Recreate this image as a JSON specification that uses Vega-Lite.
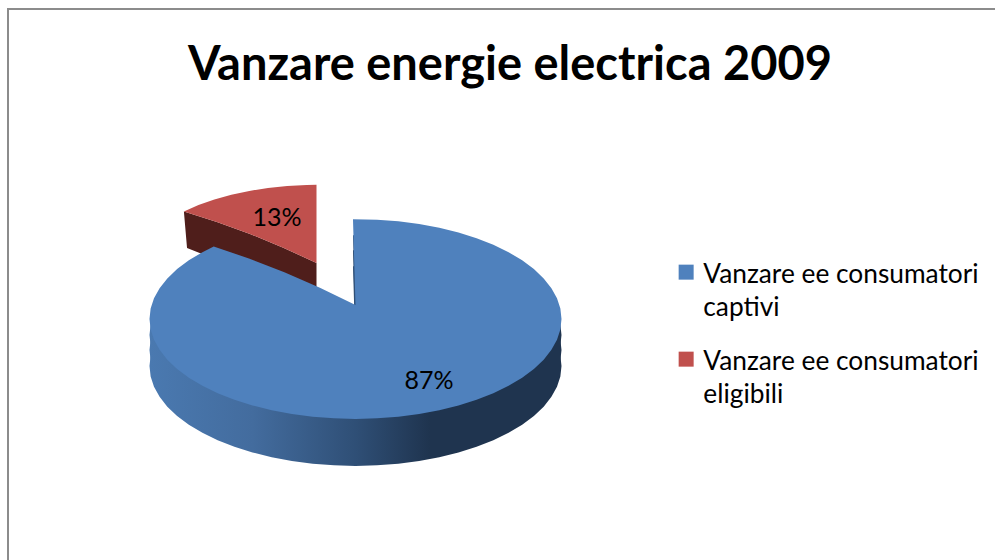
{
"$schema":"https://vega.github.io/schema/vega-lite/v6.json",
"autosize":"none",
"width":990,"height":554,
"padding":{"left":8,"top":9,"right":0,"bottom":0},
"background":"white",
"view":{"stroke":"#8c8c8c","strokeWidth":2,"fill":"white"},
"config":{"style":{"guide-label":{"lineHeight":33,"dy":11}}},
"title":{"text":"Vanzare energie electrica 2009","font":"Lato","fontSize":47,"fontWeight":"bold","color":"black","anchor":"start","dx":180,"offset":-81,"frame":"group"},
"datasets":{
"slices":[
{"type":"Feature","properties":{"name":"Vanzare ee consumatori captivi","share":0.87},"geometry":{"type":"Polygon","coordinates":[[[0,90],[-179.3,81.114],[174,81.114],[168,81.114],[162,81.114],[156,81.114],[150,81.114],[144,81.114],[138,81.114],[132,81.114],[126,81.114],[120,81.114],[114,81.114],[108,81.114],[102,81.114],[96,81.114],[90,81.114],[84,81.114],[78,81.114],[72,81.114],[66,81.114],[60,81.114],[54,81.114],[48,81.114],[42,81.114],[36,81.114],[30,81.114],[24,81.114],[18,81.114],[12,81.114],[6,81.114],[0,81.114],[-6,81.114],[-12,81.114],[-18,81.114],[-24,81.114],[-30,81.114],[-36,81.114],[-42,81.114],[-48,81.114],[-54,81.114],[-60,81.114],[-66,81.114],[-72,81.114],[-78,81.114],[-84,81.114],[-90,81.114],[-96,81.114],[-102,81.114],[-108,81.114],[-114,81.114],[-120,81.114],[-126,81.114],[-132,81.114],[-136.5,81.114],[0,90]]]}},
{"type":"Feature","properties":{"name":"Vanzare ee consumatori eligibili","share":0.13},"geometry":{"type":"Polygon","coordinates":[[[0,90],[-135,81.114],[-141,81.114],[-147,81.114],[-153,81.114],[-159,81.114],[-165,81.114],[-171,81.114],[-177,81.114],[-180,81.114],[0,90]]]}}
],
"wall":[
{"type":"Feature","properties":{"name":"Vanzare ee consumatori eligibili"},"geometry":{"type":"Polygon","coordinates":[[[0,90],[0,85.89],[-109.1,83.52],[-135,81.114],[0,90]]]}}
],
"labels":[
{"name":"Vanzare ee consumatori captivi","share":0.87,"lon":30.3,"lat":83.73},
{"name":"Vanzare ee consumatori eligibili","share":0.13,"lon":-161.9,"lat":83.98}
]},
"layer":[
{"data":{"name":"wall"},"mark":{"type":"geoshape","fill":"#4f1e1b","stroke":null},"projection":{"type":"orthographic","rotate":[0,-29,0],"scale":1214,"translate":[308.5,1315.8],"precision":0.5},"encoding":{}},
{"data":{"name":"slices"},"transform":[{"filter":"datum.properties.share < 0.5"}],"mark":{"type":"geoshape","stroke":null},"projection":{"type":"orthographic","rotate":[0,-29,0],"scale":1214,"translate":[308.5,1315.8]},"encoding":{"color":{"field":"properties.name","type":"nominal","scale":{"domain":["Vanzare ee consumatori captivi","Vanzare ee consumatori eligibili"],"range":["#4f81bd","#c0504d"]},"legend":{"title":null,"orient":"none","legendX":665,"legendY":250,"symbolType":"square","symbolSize":225,"symbolStrokeWidth":0,"symbolOpacity":1,"labelFont":"Lato","labelFontSize":26.3,"labelColor":"black","labelLimit":400,"labelBaseline":"alphabetic","labelOffset":4,"rowPadding":24,"labelExpr":"datum.label == 'Vanzare ee consumatori captivi' ? ['Vanzare ee consumatori','captivi'] : ['Vanzare ee consumatori','eligibili']"}}}},
{"data":{"name":"slices"},"transform":[{"filter":"datum.properties.share > 0.5"}],"mark":{"type":"geoshape","stroke":null,"fill":{"gradient":"linear","x1":0,"y1":0,"x2":1,"y2":0,"stops":[{"offset":0,"color":"#4a79b0"},{"offset":0.25,"color":"#436c9e"},{"offset":0.5,"color":"#2f4f76"},{"offset":0.68,"color":"#1f344f"},{"offset":1,"color":"#1f344f"}]}},"projection":{"type":"orthographic","rotate":[0,-29,0],"scale":1333.6,"translate":[347.5,1509.4]},"encoding":{}},
{"data":{"name":"slices"},"transform":[{"filter":"datum.properties.share > 0.5"}],"mark":{"type":"geoshape","stroke":null,"fill":{"gradient":"linear","x1":0,"y1":0,"x2":1,"y2":0,"stops":[{"offset":0,"color":"#4a79b0"},{"offset":0.25,"color":"#436c9e"},{"offset":0.5,"color":"#2f4f76"},{"offset":0.68,"color":"#1f344f"},{"offset":1,"color":"#1f344f"}]}},"projection":{"type":"orthographic","rotate":[0,-29,0],"scale":1333.6,"translate":[347.5,1493.4]},"encoding":{}},
{"data":{"name":"slices"},"transform":[{"filter":"datum.properties.share > 0.5"}],"mark":{"type":"geoshape","stroke":null,"fill":{"gradient":"linear","x1":0,"y1":0,"x2":1,"y2":0,"stops":[{"offset":0,"color":"#4a79b0"},{"offset":0.25,"color":"#436c9e"},{"offset":0.5,"color":"#2f4f76"},{"offset":0.68,"color":"#1f344f"},{"offset":1,"color":"#1f344f"}]}},"projection":{"type":"orthographic","rotate":[0,-29,0],"scale":1333.6,"translate":[347.5,1478.4]},"encoding":{}},
{"data":{"name":"slices"},"transform":[{"filter":"datum.properties.share > 0.5"}],"mark":{"type":"geoshape","stroke":null},"projection":{"type":"orthographic","rotate":[0,-29,0],"scale":1333.6,"translate":[347.5,1462.4]},"encoding":{"color":{"field":"properties.name","type":"nominal"}}},
{"data":{"name":"labels"},"transform":[{"filter":"datum.share > 0.5"}],"mark":{"type":"text","font":"Lato","fontSize":25,"color":"black","dy":8},"projection":{"type":"orthographic","rotate":[0,-29,0],"scale":1333.6,"translate":[347.5,1462.4]},"encoding":{"longitude":{"field":"lon","type":"quantitative"},"latitude":{"field":"lat","type":"quantitative"},"text":{"field":"share","type":"quantitative","format":".0%"}}},
{"data":{"name":"labels"},"transform":[{"filter":"datum.share < 0.5"}],"mark":{"type":"text","font":"Lato","fontSize":25,"color":"black","dy":8},"projection":{"type":"orthographic","rotate":[0,-29,0],"scale":1214,"translate":[308.5,1315.8]},"encoding":{"longitude":{"field":"lon","type":"quantitative"},"latitude":{"field":"lat","type":"quantitative"},"text":{"field":"share","type":"quantitative","format":".0%"}}}
]
}
